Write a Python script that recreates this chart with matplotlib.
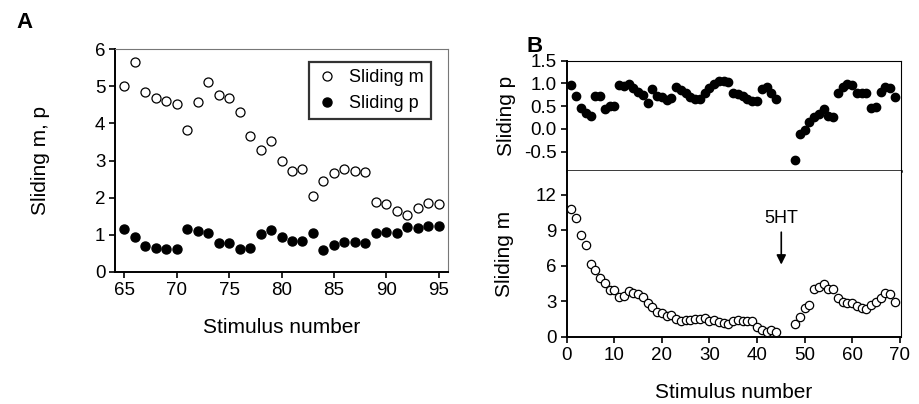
import matplotlib.pyplot as plt
import numpy as np

plt.rcParams['font.family'] = 'Liberation Sans'
plt.rcParams['font.size'] = 14

# panel A data
stim_a = np.arange(65, 96)
sliding_m_a = [5.02, 5.65, 4.84, 4.70, 4.61, 4.53, 3.83, 4.57, 5.11, 4.77, 4.68,
               4.32, 3.65, 3.29, 3.54, 3.00, 2.73, 2.77, 2.05, 2.46, 2.66, 2.78,
               2.72, 2.68, 1.89, 1.82, 1.64, 1.52, 1.73, 1.87, 1.83]
sliding_p_a = [1.15, 0.95, 0.70, 0.65, 0.61, 0.61, 1.15, 1.10, 1.05, 0.78, 0.77,
               0.61, 0.65, 1.01, 1.14, 0.95, 0.83, 0.83, 1.04, 0.59, 0.72, 0.81,
               0.81, 0.79, 1.06, 1.08, 1.06, 1.20, 1.19, 1.24, 1.24]

# panel B data (gap at 45-47 where 5HT was applied)
stim_b = list(range(1, 45)) + list(range(48, 70))
sliding_p_b = [0.96, 0.73, 0.45, 0.36, 0.29, 0.73, 0.73, 0.43, 0.50, 0.50,
               0.96, 0.95, 0.98, 0.90, 0.82, 0.74, 0.56, 0.88, 0.73, 0.71,
               0.63, 0.67, 0.93, 0.85, 0.78, 0.71, 0.65, 0.65, 0.78, 0.90,
               0.98, 1.05, 1.05, 1.04, 0.80, 0.76, 0.72, 0.66, 0.62, 0.62,
               0.88, 0.92, 0.78, 0.66,
               -0.69, -0.11, -0.02, 0.16, 0.27, 0.32, 0.44, 0.28, 0.26, 0.78,
               0.93, 0.98, 0.96, 0.78, 0.78, 0.78, 0.45, 0.48, 0.82, 0.93,
               0.89, 0.70]
sliding_m_b = [10.77, 10.04, 8.56, 7.72, 6.16, 5.61, 5.01, 4.51, 3.94, 3.94,
               3.39, 3.47, 3.86, 3.73, 3.60, 3.34, 2.82, 2.50, 2.11, 2.03,
               1.77, 1.85, 1.51, 1.38, 1.46, 1.41, 1.51, 1.51, 1.57, 1.38,
               1.46, 1.30, 1.20, 1.12, 1.36, 1.46, 1.38, 1.38, 1.33, 0.86,
               0.55, 0.42, 0.55, 0.42,
               1.12, 1.72, 2.43, 2.69, 4.07, 4.25, 4.43, 4.07, 4.07, 3.26,
               2.95, 2.90, 2.82, 2.61, 2.43, 2.35, 2.69, 2.95, 3.29, 3.73,
               3.60, 2.95]

fig = plt.figure(figsize=(9.2, 4.04), dpi=100)


def style(ax, light_box=True):
    for s in ['left', 'bottom']:
        ax.spines[s].set_linewidth(1.4)
    for s in ['top', 'right']:
        ax.spines[s].set_linewidth(0.8)
        if light_box:
            ax.spines[s].set_color('#777777')
    ax.tick_params(direction='out', length=4, width=1.2, labelsize=13.5, pad=3,
                   top=False, right=False)


# ---- panel A ----
axA = fig.add_axes([0.125, 0.327, 0.362, 0.551])
axA.plot(stim_a, sliding_m_a, 'o', mfc='white', mec='black', mew=0.9, ms=6.5,
         label='Sliding m', clip_on=False)
axA.plot(stim_a, sliding_p_a, 'o', mfc='black', mec='black', ms=6.5,
         label='Sliding p', clip_on=False)
axA.set_xlim(64.1, 95.9)
axA.set_ylim(0, 6)
axA.set_xticks(range(65, 96, 5))
axA.set_yticks(range(0, 7))
axA.set_xlabel('Stimulus number', fontsize=15, labelpad=14)
axA.set_ylabel('Sliding m, p', fontsize=15, labelpad=32)
style(axA)
leg = axA.legend(loc='upper right', fontsize=13, frameon=True, fancybox=False,
                 handletextpad=0.6, borderpad=0.4, handlelength=1.2,
                 bbox_to_anchor=(0.975, 0.985))
leg.get_frame().set_edgecolor('black')
leg.get_frame().set_linewidth(1.6)

# ---- panel B top ----
axBt = fig.add_axes([0.616, 0.577, 0.363, 0.273])
axBt.plot(stim_b, sliding_p_b, 'o', mfc='black', mec='black', ms=6, clip_on=False)
axBt.set_xlim(0, 70.2)
axBt.set_ylim(-0.92, 1.5)
axBt.set_yticks([-0.5, 0.0, 0.5, 1.0, 1.5])
axBt.set_yticklabels(['-0.5', '0.0', '0.5', '1.0', '1.5'])
axBt.set_xticks([])
axBt.set_ylabel('Sliding p', fontsize=15, labelpad=6)
style(axBt, light_box=False)
axBt.spines['bottom'].set_linewidth(1.8)

# ---- panel B bottom ----
axBb = fig.add_axes([0.616, 0.166, 0.363, 0.411])
axBb.plot(stim_b, sliding_m_b, 'o', mfc='white', mec='black', mew=0.9, ms=6,
          clip_on=False)
axBb.set_xlim(0, 70.2)
axBb.set_ylim(0, 14)
axBb.set_xticks(range(0, 71, 10))
axBb.set_yticks(range(0, 13, 3))
axBb.set_xlabel('Stimulus number', fontsize=15, labelpad=14)
axBb.set_ylabel('Sliding m', fontsize=15, labelpad=16)
style(axBb, light_box=False)
axBb.spines['top'].set_visible(False)
axBb.annotate('5HT', xy=(45.1, 6.1), xytext=(45.1, 9.3), ha='center', va='bottom',
              fontsize=13,
              arrowprops=dict(arrowstyle='-|>', color='black', lw=1.2,
                              mutation_scale=14, shrinkA=2, shrinkB=0))

fig.text(0.018, 0.945, 'A', fontsize=16, fontweight='bold', va='center')
fig.text(0.572, 0.885, 'B', fontsize=16, fontweight='bold', va='center')

fig.savefig('out.png', dpi=100)
